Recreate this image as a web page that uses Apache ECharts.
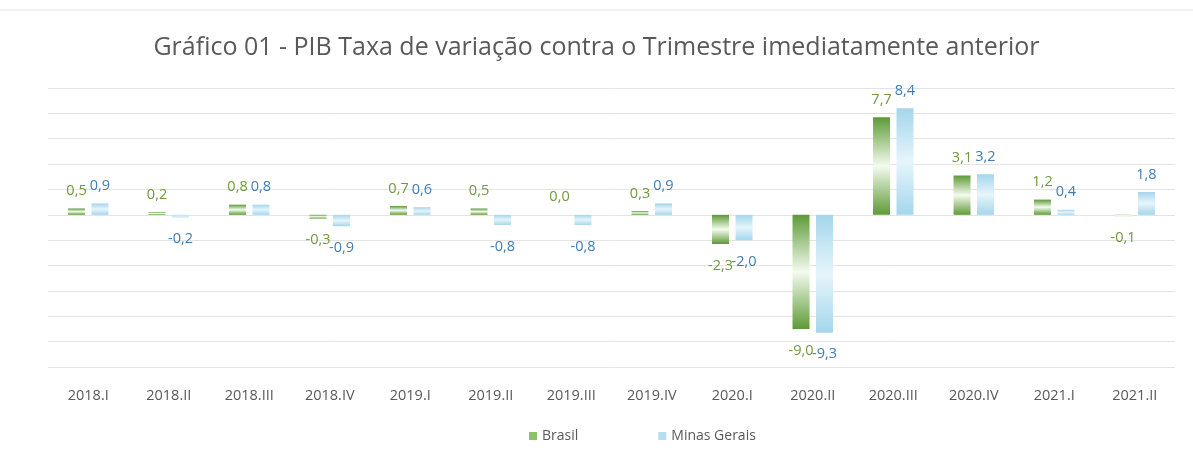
<!DOCTYPE html>
<html style="height: 100%">
<head>
<meta charset="utf-8">
<script src="https://cdn.jsdelivr.net/npm/echarts@6/dist/echarts.min.js"></script>
</head>
<body style="height: 100%; margin: 0; background: #fff">
<div id="container" style="width: 1193px; height: 470px"></div>
<script>
// quarters on the x axis
var quarters = ['2018.I', '2018.II', '2018.III', '2018.IV', '2019.I', '2019.II', '2019.III',
                '2019.IV', '2020.I', '2020.II', '2020.III', '2020.IV', '2021.I', '2021.II'];
// % change vs previous quarter
var brasil = [0.5, 0.2, 0.8, -0.3, 0.7, 0.5, 0.0, 0.3, -2.3, -9.0, 7.7, 3.1, 1.2, -0.1];
var minasGerais = [0.9, -0.2, 0.8, -0.9, 0.6, -0.8, -0.8, 0.9, -2.0, -9.3, 8.4, 3.2, 0.4, 1.8];

var FONT = '"Open Sans", sans-serif';

function fmt(p) {
    return p.value.toFixed(1).replace('.', ',');
}

// negative bars get their label under the bar end
function withLabels(values) {
    return values.map(function (v) {
        if (v < 0) {
            return { value: v, label: { position: 'bottom', distance: 14 } };
        }
        return { value: v, label: { position: 'top', distance: 10 } };
    });
}

function barGradient(edge, mid) {
    return new echarts.graphic.LinearGradient(0, 0, 0, 1, [
        { offset: 0, color: edge },
        { offset: 0.5, color: mid },
        { offset: 1, color: edge }
    ]);
}

var myChart = echarts.init(document.getElementById('container'));

var option = {
    backgroundColor: '#fff',
    animation: false,
    title: {
        text: 'Gráfico 01 - PIB Taxa de variação contra o Trimestre imediatamente anterior',
        left: 'center',
        top: 30,
        textStyle: { fontFamily: FONT, fontSize: 25, fontWeight: 'normal', color: '#595959' }
    },
    legend: {
        bottom: 22,
        left: 524,
        itemGap: 80,
        itemWidth: 8,
        itemHeight: 8,
        icon: 'rect',
        textStyle: { fontFamily: FONT, fontSize: 14, color: '#595959' },
        data: [
            { name: 'Brasil', itemStyle: { color: '#8cc06a' } },
            { name: 'Minas Gerais', itemStyle: { color: '#b5dff0' } }
        ]
    },
    grid: { left: 48, right: 18, top: 88, bottom: 103 },
    xAxis: {
        type: 'category',
        data: quarters,
        axisLine: { show: false },
        axisTick: { show: false },
        axisLabel: { margin: 21, fontFamily: FONT, fontSize: 14.5, color: '#595959' }
    },
    yAxis: {
        type: 'value',
        min: -12,
        max: 10,
        interval: 2,
        axisLabel: { show: false },
        axisLine: { show: false },
        axisTick: { show: false },
        splitLine: { lineStyle: { color: '#e3e3e3', width: 1 } }
    },
    series: [
        {
            name: 'Brasil',
            type: 'bar',
            barWidth: 17,
            barGap: '38%',
            data: withLabels(brasil),
            itemStyle: { color: barGradient('#5d9a36', '#f4fbef') },
            label: {
                show: true,
                formatter: fmt,
                fontFamily: FONT,
                fontSize: 14.5,
                color: '#6f9a3e'
            }
        },
        {
            name: 'Minas Gerais',
            type: 'bar',
            barWidth: 17,
            data: withLabels(minasGerais),
            itemStyle: { color: barGradient('#a4d6ec', '#e6f5fb') },
            label: {
                show: true,
                formatter: fmt,
                fontFamily: FONT,
                fontSize: 14.5,
                color: '#3f7db5'
            }
        }
    ],
    graphic: [
        {
            type: 'line',
            shape: { x1: 0, y1: 10, x2: 1193, y2: 10 },
            style: { stroke: '#e6e6e6', lineWidth: 1 }
        }
    ]
};

myChart.setOption(option);
</script>
</body>
</html>
